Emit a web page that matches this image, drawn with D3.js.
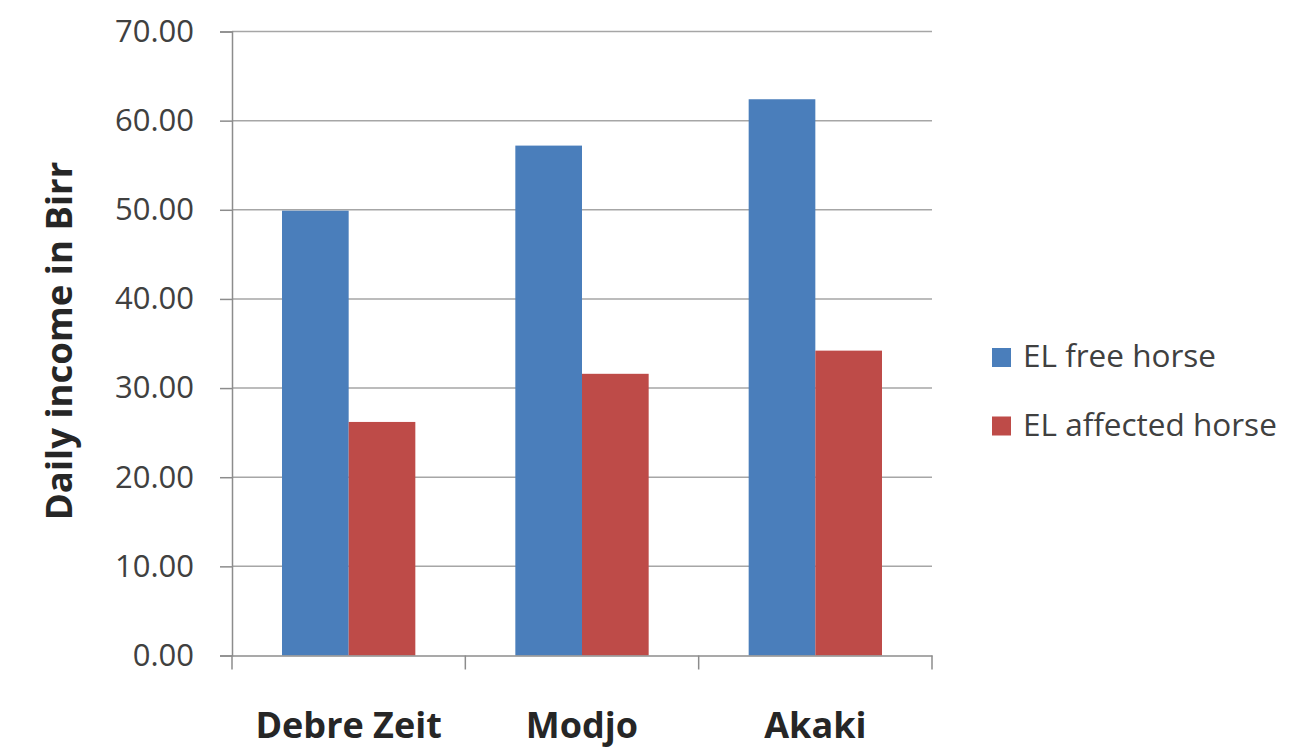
<!DOCTYPE html>
<html lang="en">
<head>
    <meta charset="UTF-8">
    <script src="https://d3js.org/d3.v7.min.js"></script>
    <style>
        body { margin: 0; background: #fff; }
        text { font-family: "Open Sans", Arial, sans-serif; }
    </style>
</head>
<body>
    <svg id="chart" width="1315" height="748"></svg>
    <script>
        const sites = ["Debre Zeit", "Modjo", "Akaki"];
        const seriesNames = ["EL free horse", "EL affected horse"];
        const elFree = [49.9, 57.2, 62.4];
        const elAffected = [26.2, 31.6, 34.2];
        const yTicks = [0, 10, 20, 30, 40, 50, 60, 70];
        const colors = ["#4a7ebb", "#be4b48"];

        const data = sites.map((s, i) => ({ site: s, values: [elFree[i], elAffected[i]] }));

        const margin = { top: 31.5, right: 383, bottom: 92.5, left: 232 };
        const width = 1315, height = 748;
        const svg = d3.select("#chart");

        const x0 = d3.scaleBand()
            .domain(sites)
            .range([margin.left, width - margin.right])
            .padding(0);

        const x1 = d3.scaleBand()
            .domain(d3.range(seriesNames.length))
            .range([0, x0.bandwidth()])
            .paddingInner(0)
            .paddingOuter(0.75);

        const y = d3.scaleLinear()
            .domain([0, 70])
            .range([height - margin.bottom, margin.top]);

        // gridlines
        svg.append("g")
            .selectAll("line")
            .data(yTicks.filter(d => d > 0))
            .enter().append("line")
            .attr("x1", margin.left)
            .attr("x2", width - margin.right)
            .attr("y1", d => y(d))
            .attr("y2", d => y(d))
            .attr("stroke", "#a6a6a6")
            .attr("stroke-width", 1.5);

        // bars
        svg.append("g")
            .selectAll("g")
            .data(data)
            .enter().append("g")
            .attr("transform", d => `translate(${x0(d.site)},0)`)
            .selectAll("rect")
            .data(d => d.values.map((v, i) => ({ v, i })))
            .enter().append("rect")
            .attr("x", d => x1(d.i))
            .attr("y", d => y(d.v))
            .attr("width", x1.bandwidth())
            .attr("height", d => y(0) - y(d.v))
            .attr("fill", d => colors[d.i]);

        // y axis
        const yAxis = svg.append("g")
            .attr("transform", `translate(${margin.left},0)`)
            .call(d3.axisLeft(y).tickValues(yTicks).tickFormat(d3.format(".2f")).tickSize(12).tickPadding(26));
        yAxis.select(".domain").attr("stroke", "#8c8c8c").attr("stroke-width", 1.5);
        yAxis.selectAll(".tick line").attr("stroke", "#8c8c8c").attr("stroke-width", 1.5);
        yAxis.selectAll(".tick text")
            .style("font-size", "31px")
            .attr("fill", "#404040");

        // x axis
        const xAxis = svg.append("g")
            .attr("transform", `translate(0,${y(0)})`)
            .call(d3.axisBottom(x0).tickSize(0).tickPadding(0).tickFormat(""));
        xAxis.select(".domain").attr("stroke", "#8c8c8c").attr("stroke-width", 1.5);

        // category separators
        const edges = sites.map(s => x0(s)).concat([x0(sites[sites.length - 1]) + x0.bandwidth()]);
        svg.append("g")
            .selectAll("line")
            .data(edges)
            .enter().append("line")
            .attr("x1", d => d).attr("x2", d => d)
            .attr("y1", y(0)).attr("y2", y(0) + 14)
            .attr("stroke", "#8c8c8c")
            .attr("stroke-width", 1.5);

        // category labels
        svg.append("g")
            .selectAll("text")
            .data(sites)
            .enter().append("text")
            .attr("x", d => x0(d) + x0.bandwidth() / 2)
            .attr("y", 738)
            .attr("text-anchor", "middle")
            .style("font-size", "36px")
            .style("font-weight", "bold")
            .attr("fill", "#262626")
            .text(d => d);

        // y axis title
        svg.append("text")
            .attr("transform", `translate(72,341) rotate(-90)`)
            .attr("text-anchor", "middle")
            .style("font-size", "36.5px")
            .style("font-weight", "bold")
            .attr("fill", "#262626")
            .text("Daily income in Birr");

        // legend
        const legend = svg.append("g")
            .selectAll("g")
            .data(seriesNames)
            .enter().append("g")
            .attr("transform", (d, i) => `translate(992,${348 + i * 68.5})`);
        legend.append("rect")
            .attr("width", 19)
            .attr("height", 19)
            .attr("fill", (d, i) => colors[i]);
        legend.append("text")
            .attr("x", 31)
            .attr("y", 19)
            .style("font-size", "31.5px")
            .attr("fill", "#404040")
            .text(d => d);
    </script>
</body>
</html>
